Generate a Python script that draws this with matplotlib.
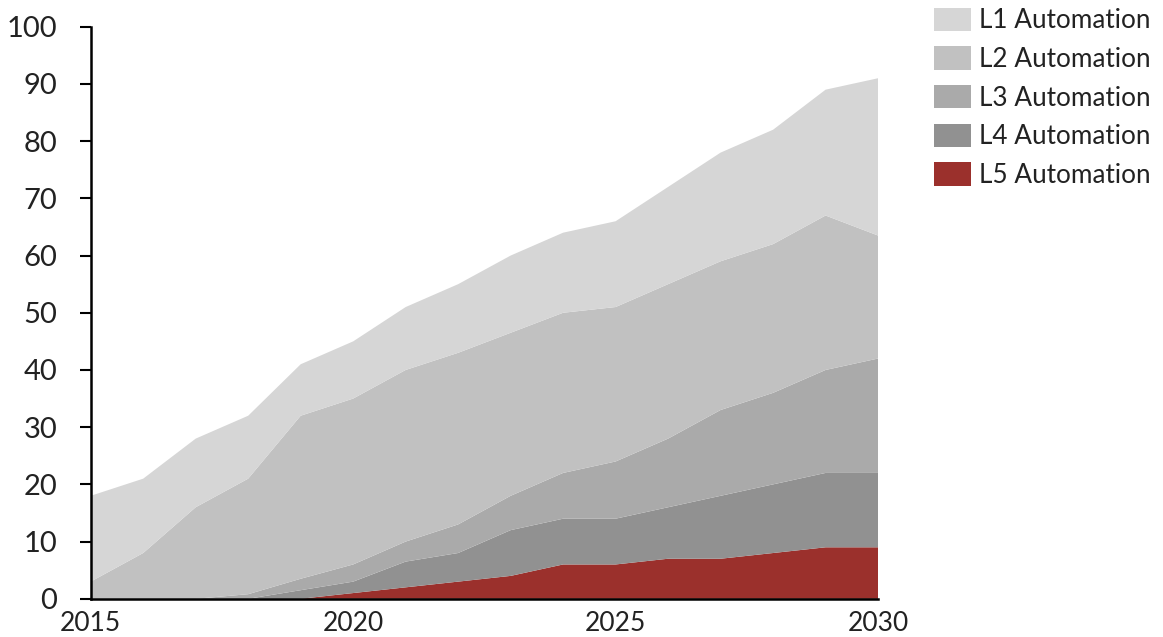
import numpy as np
import matplotlib.pyplot as plt

plt.rcParams['font.family'] = ['Lato', 'DejaVu Sans']

YEARS = list(range(2015, 2031))
L1 = [15, 13, 12, 11, 9, 10, 11, 12, 13.5, 14, 15, 17, 19, 20, 22, 27.5]
L2 = [3, 8, 16, 20.2, 28.5, 29, 30, 30, 28.5, 28, 27, 27, 26, 26, 27, 21.5]
L3 = [0, 0, 0, 0.8, 2, 3, 3.5, 5, 6, 8, 10, 12, 15, 16, 18, 20]
L4 = [0, 0, 0, 0, 1.5, 2, 4.5, 5, 8, 8, 8, 9, 11, 12, 13, 13]
L5 = [0, 0, 0, 0, 0, 1, 2, 3, 4, 6, 6, 7, 7, 8, 9, 9]
LABELS = ['L1 Automation', 'L2 Automation', 'L3 Automation',
          'L4 Automation', 'L5 Automation']
COLORS = ['#d6d6d6', '#c1c1c1', '#aaaaaa', '#919191', '#9b302c']

fig = plt.figure(figsize=(11.63, 6.37), dpi=100)
ax = fig.add_axes([0.078, 0.06, 0.677, 0.898])

# stack from the bottom (L5) up to L1
polys = ax.stackplot(YEARS, L5, L4, L3, L2, L1,
                     colors=COLORS[::-1], linewidth=0)

ax.set_xlim(2015, 2030)
ax.set_ylim(0, 100)
ax.set_yticks(range(0, 101, 10))
ax.set_xticks([2015, 2020, 2025, 2030])
ax.tick_params(axis='y', length=8, width=1.5, labelsize=21, pad=16,
               labelcolor='#222222')
ax.tick_params(axis='x', length=0, labelsize=19, pad=9,
               labelcolor='#222222')
for side in ['top', 'right']:
    ax.spines[side].set_visible(False)
for side in ['left', 'bottom']:
    ax.spines[side].set_linewidth(1.8)

handles = polys[::-1]
fig.legend(handles, LABELS, loc='upper left', bbox_to_anchor=(0.803, 0.988),
           frameon=False, fontsize=18.8, handlelength=1.42, handleheight=1.0,
           handletextpad=0.3, labelspacing=0.5, borderaxespad=0,
           borderpad=0, labelcolor='#222222')

fig.savefig('out.png', dpi=100)
